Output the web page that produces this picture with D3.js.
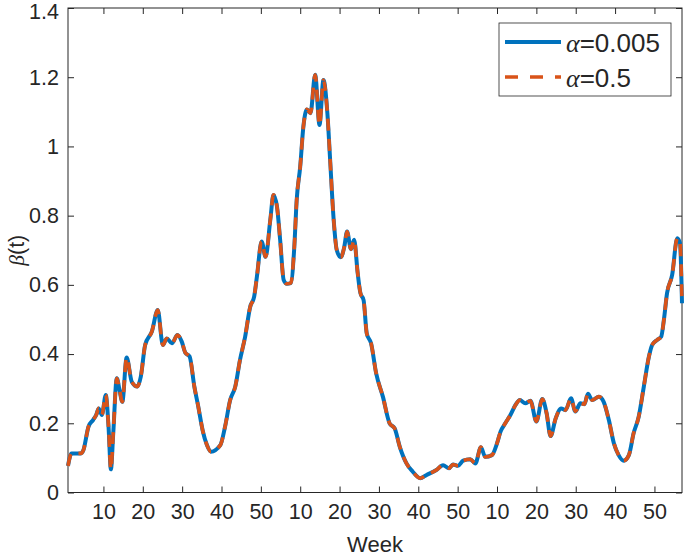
<!DOCTYPE html>
<meta charset="utf-8">
<style>
  body { margin: 0; background: #fff; }
  text { font-family: "Liberation Sans", Arial, sans-serif; fill: #262626; }
  .axis path, .axis line { stroke: #262626; }
</style>
<svg width="687" height="556"></svg>
<script src="https://cdn.jsdelivr.net/npm/d3@7"></script>
<script>
  // week index (continuous over the three seasons) and beta(t)
  var weeks = [1.0, 1.9, 3.0, 4.3, 4.9, 6.2, 7.4, 8.2, 8.8, 9.6, 10.6, 11.3, 11.9, 12.5, 13.4, 14.1, 14.8, 15.9,
    17.2, 18.6, 19.5, 20.6, 22.3, 23.8, 25.1, 26.1, 27.4, 28.8, 29.9, 30.8, 31.9, 33.1, 34.1, 35.2, 36.3, 37.3,
    39.7, 40.9, 42.2, 43.5, 44.7, 46.0, 47.3, 48.3, 49.0, 50.2, 51.2, 52.4, 53.2, 54.1, 54.9, 55.8, 56.6, 57.6,
    58.5, 59.1, 60.0, 60.8, 61.7, 62.6, 63.8, 64.9, 65.9, 66.9, 67.6, 68.5, 69.3, 70.3, 71.2, 71.9, 72.9, 73.7,
    74.6, 75.3, 76.1, 76.9, 78.0, 79.3, 81.0, 82.7, 84.0, 85.3, 87.0, 88.6, 90.5, 92.0, 94.6, 96.3, 97.8, 98.8,
    100.1, 101.4, 103.2, 104.5, 105.9, 107.0, 108.7, 110.0, 110.9, 112.1, 113.4, 114.7, 115.8, 117.2, 118.5,
    120.0, 121.5, 122.6, 123.6, 124.9, 126.3, 127.4, 128.8, 129.9, 131.2, 132.2, 133.1, 134.2, 135.9, 137.1,
    138.4, 139.7, 140.9, 142.2, 143.5, 144.7, 146.0, 147.3, 148.6, 149.4, 150.7, 151.7, 152.4, 153.2, 154.5,
    155.8, 156.5, 157.0]
  var beta = [0.077, 0.113, 0.113, 0.113, 0.122, 0.19, 0.21, 0.225, 0.243, 0.224, 0.282, 0.19, 0.067, 0.172, 0.33,
    0.296, 0.262, 0.39, 0.32, 0.306, 0.335, 0.426, 0.465, 0.527, 0.426, 0.445, 0.431, 0.455, 0.436, 0.404, 0.393,
    0.306, 0.248, 0.18, 0.137, 0.118, 0.137, 0.19, 0.267, 0.306, 0.383, 0.45, 0.537, 0.566, 0.624, 0.725, 0.681,
    0.788, 0.86, 0.826, 0.73, 0.614, 0.603, 0.605, 0.71, 0.845, 0.942, 1.057, 1.107, 1.096, 1.207, 1.062, 1.192,
    1.096, 0.961, 0.788, 0.70, 0.68, 0.71, 0.754, 0.703, 0.73, 0.634, 0.576, 0.556, 0.46, 0.431, 0.344, 0.277,
    0.2, 0.185, 0.132, 0.084, 0.06, 0.041, 0.05, 0.065, 0.079, 0.07, 0.081, 0.077, 0.092, 0.096, 0.084, 0.131,
    0.103, 0.108, 0.142, 0.176, 0.2, 0.224, 0.253, 0.267, 0.258, 0.265, 0.205, 0.27, 0.229, 0.163, 0.214, 0.243,
    0.238, 0.272, 0.234, 0.258, 0.255, 0.285, 0.267, 0.277, 0.262, 0.21, 0.142, 0.108, 0.092, 0.108, 0.171,
    0.219, 0.306, 0.393, 0.426, 0.441, 0.45, 0.499, 0.576, 0.629, 0.735, 0.72, 0.547]
  var seriesNames = ["0.005", "0.5"]
  var seriesColors = ["#0072BD", "#D95319"]
  var xTicks = [10, 20, 30, 40, 50, 60, 70, 80, 90, 100, 110, 120, 130, 140, 150]
  var xTickLabels = ["10", "20", "30", "40", "50", "10", "20", "30", "40", "50", "10", "20", "30", "40", "50"]
  var yTicks = [0, 0.2, 0.4, 0.6, 0.8, 1, 1.2, 1.4]

  var svg = d3.select("svg"),
    mLeft = 68, mRight = 682, mTop = 8, mBottom = 492.5

  var x = d3.scaleLinear().domain([1, 157]).range([mLeft, mRight])
  var y = d3.scaleLinear().domain([0, 1.4]).range([mBottom, mTop])

  var pts = weeks.map((w, i) => [w, beta[i]])
  var line = d3.line()
    .x(d => x(d[0]))
    .y(d => y(d[1]))
    .curve(d3.curveMonotoneX)

  // box
  svg.append("rect")
    .attr("x", mLeft).attr("y", mTop)
    .attr("width", mRight - mLeft).attr("height", mBottom - mTop)
    .attr("fill", "#fff").attr("stroke", "#262626").attr("stroke-width", 1)

  var fmtY = d => String(+d.toFixed(1))
  svg.append("g").attr("class", "axis").attr("transform", "translate(0," + mBottom + ")")
    .call(d3.axisBottom(x).tickValues(xTicks).tickSizeInner(-6).tickSizeOuter(0).tickPadding(11)
      .tickFormat((d, i) => xTickLabels[i]))
  svg.append("g").attr("class", "axis").attr("transform", "translate(0," + mTop + ")")
    .call(d3.axisTop(x).tickValues(xTicks).tickSizeInner(-6).tickSizeOuter(0).tickFormat(""))
  var yAx = svg.append("g").attr("class", "axis").attr("transform", "translate(" + mLeft + ",0)")
    .call(d3.axisLeft(y).tickValues(yTicks).tickSizeInner(-6).tickSizeOuter(0).tickPadding(9).tickFormat(fmtY))
  svg.append("g").attr("class", "axis").attr("transform", "translate(" + mRight + ",0)")
    .call(d3.axisRight(y).tickValues(yTicks).tickSizeInner(-6).tickSizeOuter(0).tickFormat(""))
  svg.selectAll(".axis .domain").remove()
  svg.selectAll(".axis").attr("font-size", 21.5).attr("font-family", null)
  svg.selectAll(".axis text").style("fill", "#262626")
  svg.selectAll(".axis line").attr("stroke", "#262626").attr("stroke-width", 1)
  // top label sits a little low so it stays inside the figure
  yAx.selectAll(".tick text").filter(d => d === 1.4).attr("y", 4)

  // series: solid blue underneath, dashed orange on top
  svg.append("path").datum(pts)
    .attr("d", line).attr("fill", "none")
    .attr("stroke", seriesColors[0]).attr("stroke-width", 4)
    .attr("stroke-linejoin", "round")
  svg.append("path").datum(pts)
    .attr("d", line).attr("fill", "none")
    .attr("stroke", seriesColors[1]).attr("stroke-width", 3.6)
    .attr("stroke-dasharray", "12,8")

  // axis labels
  svg.append("text")
    .attr("x", (mLeft + mRight) / 2).attr("y", 552)
    .attr("text-anchor", "middle").attr("font-size", 22)
    .text("Week")
  var yLab = svg.append("text")
    .attr("transform", "translate(24," + (mTop + mBottom) / 2 + ") rotate(-90)")
    .attr("text-anchor", "middle").attr("font-size", 21.5)
  yLab.append("tspan").attr("font-family", "Liberation Serif, serif").attr("font-style", "italic").text("β")
  yLab.append("tspan").text("(t)")

  // legend
  var lg = svg.append("g")
  lg.append("rect")
    .attr("x", 499).attr("y", 23).attr("width", 172).attr("height", 73)
    .attr("fill", "#fff").attr("stroke", "#262626").attr("stroke-width", 0.8)
  seriesNames.forEach((name, i) => {
    var cy = 42 + i * 35
    lg.append("line")
      .attr("x1", 505).attr("x2", 561).attr("y1", cy).attr("y2", cy)
      .attr("stroke", seriesColors[i]).attr("stroke-width", i ? 3.6 : 4)
      .attr("stroke-dasharray", i ? "13,12" : null)
    var t = lg.append("text").attr("x", 566).attr("y", cy + 10).attr("font-size", 26)
    t.append("tspan").attr("font-family", "Liberation Serif, serif").attr("font-style", "italic").text("α")
    t.append("tspan").text("=" + name)
  })
</script>
